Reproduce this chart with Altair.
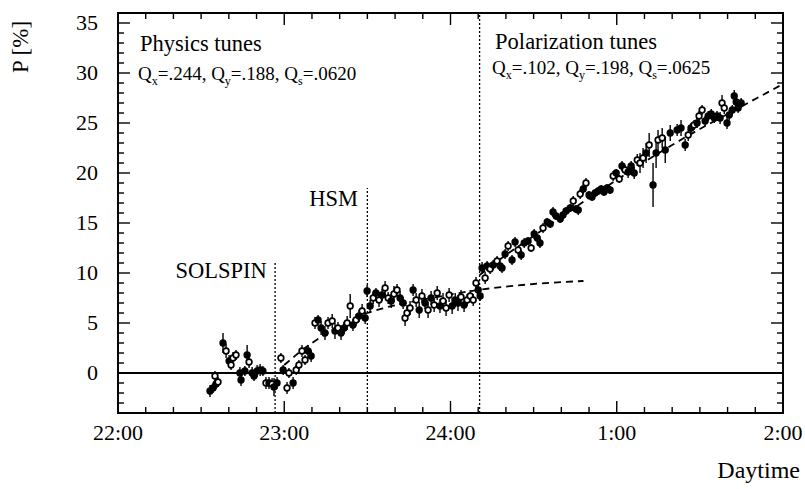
import altair as alt
import pandas as pd

# Beam polarization measurements; time in minutes after 22:00
t_min = [
    33.2, 34.3, 35.4, 36.1, 35.0, 37.9, 39.0, 40.1, 40.8, 41.5, 42.6, 44.0, 44.4, 45.8, 46.6,
    47.3, 48.4, 49.1, 50.2, 51.3, 52.3, 53.4, 54.5, 55.6, 56.3, 57.4, 58.8, 59.6, 61.0, 61.7,
    63.2, 64.3, 65.3, 66.4, 67.5, 68.6, 69.7, 71.1, 72.2, 73.3, 74.7, 75.8, 77.3, 78.3, 79.4,
    80.5, 81.6, 82.7, 83.8, 84.8, 85.9, 87.0, 88.1, 89.2, 89.9, 91.0, 92.1, 93.1, 94.2, 95.3,
    96.4, 97.5, 98.6, 99.6, 100.7, 101.8, 102.9, 103.6, 104.3, 105.4, 106.5, 107.6, 108.7, 109.7, 110.8,
    111.9, 113.0, 114.1, 115.2, 116.2, 117.3, 118.4, 119.5, 120.6, 121.7, 122.7, 123.8, 124.9, 126.0, 127.1,
    128.2, 129.2, 130.0, 130.7, 131.4, 132.5, 133.2, 134.3, 135.4, 136.8, 137.9, 138.6, 139.7, 140.8, 142.2,
    143.3, 144.4, 145.5, 146.6, 148.0, 149.1, 150.2, 151.3, 152.3, 153.4, 154.9, 156.0, 157.0, 158.1, 159.6,
    160.6, 161.7, 163.2, 164.3, 165.3, 166.1, 166.8, 167.9, 168.9, 170.0, 171.1, 172.2, 173.3, 174.4, 175.4,
    176.5, 177.6, 178.7, 179.8, 180.9, 181.9, 183.0, 184.1, 185.2, 186.3, 187.4, 188.4, 189.5, 190.6, 191.7,
    193.1, 194.2, 194.9, 196.4, 197.5, 199.3, 201.8, 203.2, 204.7, 205.8, 206.8, 207.9, 209.0, 209.7, 210.8,
    211.9, 213.0, 214.1, 215.2, 216.2, 217.3, 218.0, 218.8, 219.8, 220.6, 221.7, 222.4, 223.1, 223.8, 224.9,
]
p_val = [
    -1.8, -1.5, -1.1, -0.9, -0.3, 3.0, 2.2, 1.2, 0.8, 1.5, 1.8, 0.0, -0.7, 0.2, 1.8,
    1.1, 0.0, -0.3, 0.2, 0.3, 0.2, -1.0, -1.0, -1.1, -1.4, -1.0, 1.5, 0.3, -1.5, 0.0,
    -1.0, 0.3, 0.8, 2.2, 1.3, 2.2, 1.7, 5.0, 5.3, 4.5, 4.0, 5.0, 5.2, 4.2, 4.5,
    4.0, 4.5, 5.0, 6.7, 4.8, 5.3, 5.7, 6.2, 5.5, 8.2, 6.7, 7.5, 8.0, 7.3, 7.8,
    8.5, 7.5, 7.2, 7.9, 8.3, 7.5, 7.0, 5.5, 6.0, 6.5, 8.3, 7.3, 6.3, 7.7, 7.0,
    6.3, 7.5, 6.8, 8.0, 6.7, 7.2, 6.5, 7.8, 6.7, 7.3, 7.0, 7.6, 6.8, 7.3, 7.7,
    7.3, 9.0, 8.3, 7.7, 10.5, 9.5, 10.7, 10.4, 10.8, 11.2, 10.7, 10.5, 11.9, 12.7, 11.3,
    13.1, 12.3, 11.8, 13.0, 13.2, 12.5, 13.9, 13.5, 13.0, 14.5, 15.1, 14.9, 16.1, 15.7, 15.4,
    15.8, 16.2, 16.5, 17.2, 16.4, 16.3, 17.9, 18.4, 19.0, 17.8, 17.6, 18.0, 18.2, 18.4, 18.1,
    18.5, 18.3, 19.7, 20.0, 19.4, 20.7, 20.3, 20.1, 20.7, 20.0, 21.3, 21.0, 21.5, 22.0, 22.8,
    18.8, 22.0, 23.3, 23.5, 22.3, 24.0, 24.3, 24.5, 22.8, 23.8, 24.5, 24.8, 25.0, 25.7, 26.3,
    25.2, 25.7, 25.9, 25.5, 25.7, 25.5, 27.0, 26.5, 25.0, 25.8, 26.3, 27.7, 27.1, 26.5, 27.0,
]
p_err = [
    0.6, 0.5, 0.5, 0.5, 0.5, 1.0, 0.7, 0.6, 0.5, 0.6, 0.5, 0.6, 0.6, 0.5, 1.0,
    0.6, 0.6, 0.5, 0.6, 0.6, 0.5, 0.6, 0.6, 0.6, 0.9, 0.6, 0.5, 0.5, 0.6, 0.5,
    0.6, 0.5, 0.5, 0.6, 0.5, 0.6, 0.6, 0.6, 0.5, 0.7, 0.7, 0.6, 0.7, 0.8, 0.6,
    0.7, 0.6, 0.7, 1.2, 0.6, 0.6, 0.6, 0.7, 0.6, 0.6, 0.6, 0.6, 0.5, 0.7, 0.6,
    0.7, 0.6, 0.7, 0.8, 0.6, 0.7, 0.6, 0.8, 0.8, 0.7, 0.6, 0.7, 0.8, 0.7, 0.6,
    0.8, 0.7, 0.7, 0.7, 0.7, 0.8, 0.8, 0.7, 0.8, 0.7, 0.8, 0.7, 0.7, 0.6, 0.6,
    0.6, 0.6, 0.6, 0.5, 0.6, 0.6, 0.5, 0.5, 0.5, 0.5, 0.5, 0.5, 0.5, 0.5, 0.5,
    0.5, 0.4, 0.5, 0.5, 0.4, 0.4, 0.5, 0.4, 0.5, 0.5, 0.4, 0.4, 0.5, 0.4, 0.4,
    0.4, 0.4, 0.4, 0.5, 0.4, 0.5, 0.5, 0.5, 0.5, 0.4, 0.4, 0.4, 0.4, 0.4, 0.4,
    0.4, 0.4, 0.5, 0.4, 0.4, 0.5, 0.5, 0.6, 0.5, 0.6, 0.6, 1.0, 1.0, 1.0, 1.2,
    2.2, 1.5, 1.0, 1.0, 1.3, 0.8, 0.6, 0.8, 0.6, 0.6, 0.5, 0.5, 0.5, 0.5, 0.5,
    0.5, 0.5, 0.5, 0.5, 0.5, 0.6, 0.8, 0.6, 0.6, 0.5, 0.5, 0.6, 0.5, 0.5, 0.5,
]
# "o" = open circle, "f" = filled circle
marker = list(
    "fffoofofoooffff"
    "offfffofoffofoo"
    "fooooffofffoofo"
    "ffoofofofffofof"
    "oofooffooofofof"
    "ofoofooofffofoo"
    "oofffofofofffof"
    "fofffofffofffff"
    "fffoffofoffffff"
    "ffofofofffooofo"
    "ffoofffffofofoo"
    "ffffffoofffffff"
)

# Fitted build-up curves (physics tunes, polarization tunes)
fit_phys_t = [60, 63, 66, 70, 75, 80, 85, 90, 96, 104, 115, 130, 150, 168]
fit_phys_p = [0.8, 1.5, 2.2, 3.0, 3.9, 4.7, 5.4, 6.0, 6.5, 7.0, 7.6, 8.3, 8.9, 9.2]
fit_pol_t = [130.5, 140, 150, 160, 170, 180, 190, 200, 210, 220, 230, 240]
fit_pol_p = [9.8, 11.8, 13.7, 15.6, 17.5, 19.3, 21.1, 22.8, 24.4, 25.9, 27.4, 28.9]

# Switching events: SOLSPIN, HSM, change to polarization tunes
event_t = [56.7, 90.0, 130.5]
event_top = [11.2, 18.5, 36.0]

x_tick_values = [0, 60, 120, 180, 240]
x_tick_labels = ["22:00", "23:00", "24:00", "1:00", "2:00"]
y_tick_values = [0, 5, 10, 15, 20, 25, 30, 35]
x_title = "Daytime"
y_title = "P [%]"

tune_subs = ["x", "y", "s"]
phys_tunes = [".244", ".188", ".0620"]
pol_tunes = [".102", ".198", ".0625"]

FONT = "Liberation Serif"
W, H = 665, 400
X_DOM = [0, 240]
Y_DOM = [-4, 36]
MIN_PER_PX = (X_DOM[1] - X_DOM[0]) / W
P_PER_PX = (Y_DOM[1] - Y_DOM[0]) / H
MAJOR_LEN, MINOR_LEN = 12, 6

xs = alt.Scale(domain=X_DOM, nice=False, zero=False)
ys = alt.Scale(domain=Y_DOM, nice=False, zero=False)


def X(field):
    return alt.X(field, scale=xs, axis=None)


def Y(field):
    return alt.Y(field, scale=ys, axis=None)


pts = pd.DataFrame({"t": t_min, "p": p_val, "err": p_err, "marker": marker})
pts["lo"] = pts["p"] - pts["err"]
pts["hi"] = pts["p"] + pts["err"]

# Inward frame ticks on all four sides: every 10 min / 1 %, longer each hour / 5 %
tick_rows = []
for v in range(X_DOM[0], X_DOM[1] + 1, 10):
    n = (MAJOR_LEN if v % 60 == 0 else MINOR_LEN) * P_PER_PX
    tick_rows.append({"t": v, "t2": v, "p": Y_DOM[0], "p2": Y_DOM[0] + n})
    tick_rows.append({"t": v, "t2": v, "p": Y_DOM[1], "p2": Y_DOM[1] - n})
for v in range(Y_DOM[0], Y_DOM[1] + 1):
    n = (MAJOR_LEN if v % 5 == 0 else MINOR_LEN) * MIN_PER_PX
    tick_rows.append({"t": X_DOM[0], "t2": X_DOM[0] + n, "p": v, "p2": v})
    tick_rows.append({"t": X_DOM[1], "t2": X_DOM[1] - n, "p": v, "p2": v})

frame_ticks = alt.Chart(pd.DataFrame(tick_rows)).mark_rule(color="black", strokeWidth=1.4).encode(
    x=X("t:Q"), x2="t2:Q", y=Y("p:Q"), y2="p2:Q"
)

# Tick labels and axis titles
x_labels = alt.Chart(pd.DataFrame({"v": x_tick_values, "lab": x_tick_labels})).mark_text(
    font=FONT, fontSize=22, color="black", align="center", baseline="top"
).encode(x=X("v:Q"), y=alt.value(H + 10), text="lab:N")

y_labels = alt.Chart(pd.DataFrame({"v": y_tick_values})).mark_text(
    font=FONT, fontSize=22, color="black", align="right", baseline="middle"
).encode(y=Y("v:Q"), x=alt.value(-20), text=alt.Text("v:Q", format="d"))

x_title_mark = alt.Chart(pd.DataFrame({"s": [x_title]})).mark_text(
    font=FONT, fontSize=24, color="black", align="right", baseline="alphabetic"
).encode(x=alt.value(W + 17), y=alt.value(H + 65), text="s:N")

y_title_mark = alt.Chart(pd.DataFrame({"s": [y_title]})).mark_text(
    font=FONT, fontSize=23, color="black", align="center", baseline="middle", angle=270
).encode(x=alt.value(-97), y=alt.value(34), text="s:N")

zero_line = alt.Chart(pd.DataFrame({"p": [0]})).mark_rule(
    color="black", strokeWidth=1.8
).encode(y=Y("p:Q"))

events = pd.DataFrame({"t": event_t, "top": event_top, "bottom": [Y_DOM[0]] * len(event_t)})
event_lines = alt.Chart(events).mark_rule(
    color="black", strokeWidth=1.3, strokeDash=[2, 2]
).encode(x=X("t:Q"), y=Y("bottom:Q"), y2="top:Q")

fit_style = dict(color="black", strokeWidth=1.8, strokeDash=[7, 5])
fit_phys = alt.Chart(pd.DataFrame({"t": fit_phys_t, "p": fit_phys_p})).mark_line(
    interpolate="monotone", **fit_style
).encode(x=X("t:Q"), y=Y("p:Q"))
fit_pol = alt.Chart(pd.DataFrame({"t": fit_pol_t, "p": fit_pol_p})).mark_line(
    interpolate="monotone", **fit_style
).encode(x=X("t:Q"), y=Y("p:Q"))

error_bars = alt.Chart(pts).mark_rule(color="black", strokeWidth=1.4).encode(
    x=X("t:Q"), y=Y("lo:Q"), y2="hi:Q"
)

points = alt.Chart(pts).mark_point(
    shape="circle", size=32, filled=True, stroke="black", strokeWidth=1.7, opacity=1
).encode(
    x=X("t:Q"),
    y=Y("p:Q"),
    fill=alt.Fill("marker:N", scale=alt.Scale(domain=["o", "f"], range=["white", "black"]), legend=None),
)

# Text annotations, placed in data coordinates
TIMES_EM = {"Q": 0.722, "=": 0.564, ".": 0.25, ",": 0.25, " ": 0.25, "x": 0.5, "y": 0.5, "s": 0.389}


def text_width(s, fs):
    return sum(TIMES_EM.get(c, 0.5) for c in s) * fs


def tune_rows(t0, p0, values, main=19, sub=12, drop=5):
    rows, off = [], 0.0
    for i, (s, v) in enumerate(zip(tune_subs, values)):
        tail = "=" + v + (", " if i < len(values) - 1 else "")
        for txt, fs, dy in (("Q", main, 0), (s, sub, drop), (tail, main, 0)):
            rows.append({"t": t0 + off * MIN_PER_PX, "p": p0 - dy * P_PER_PX, "text": txt, "fs": fs})
            off += text_width(txt, fs)
    return rows


left_rows = [
    {"t": 7.9, "p": 32.2, "text": "Physics tunes", "fs": 22.5},
    {"t": 136.1, "p": 32.4, "text": "Polarization tunes", "fs": 22.5},
]
left_rows += tune_rows(7.2, 29.3, phys_tunes)
left_rows += tune_rows(135.0, 29.9, pol_tunes)
right_rows = [
    {"t": 53.7, "p": 9.5, "text": "SOLSPIN", "fs": 22.5},
    {"t": 86.6, "p": 16.7, "text": "HSM", "fs": 22.5},
]


def text_layer(rows, align):
    return alt.Chart(pd.DataFrame(rows)).mark_text(
        align=align, baseline="alphabetic", font=FONT, color="black"
    ).encode(
        x=X("t:Q"),
        y=Y("p:Q"),
        text="text:N",
        size=alt.Size("fs:Q", scale=None, legend=None),
    )


chart = alt.layer(
    zero_line, event_lines, fit_phys, fit_pol, error_bars, points,
    text_layer(left_rows, "left"), text_layer(right_rows, "right"),
    x_labels, y_labels, x_title_mark, y_title_mark, frame_ticks,
).properties(
    width=W, height=H,
    autosize=alt.AutoSizeParams(type="none"),
    padding={"left": 118, "top": 13, "right": 22, "bottom": 76},
    background="white",
).configure_view(
    stroke="black", strokeWidth=2
)

chart.save("out.html", embed_options={"renderer": "svg", "actions": False})
